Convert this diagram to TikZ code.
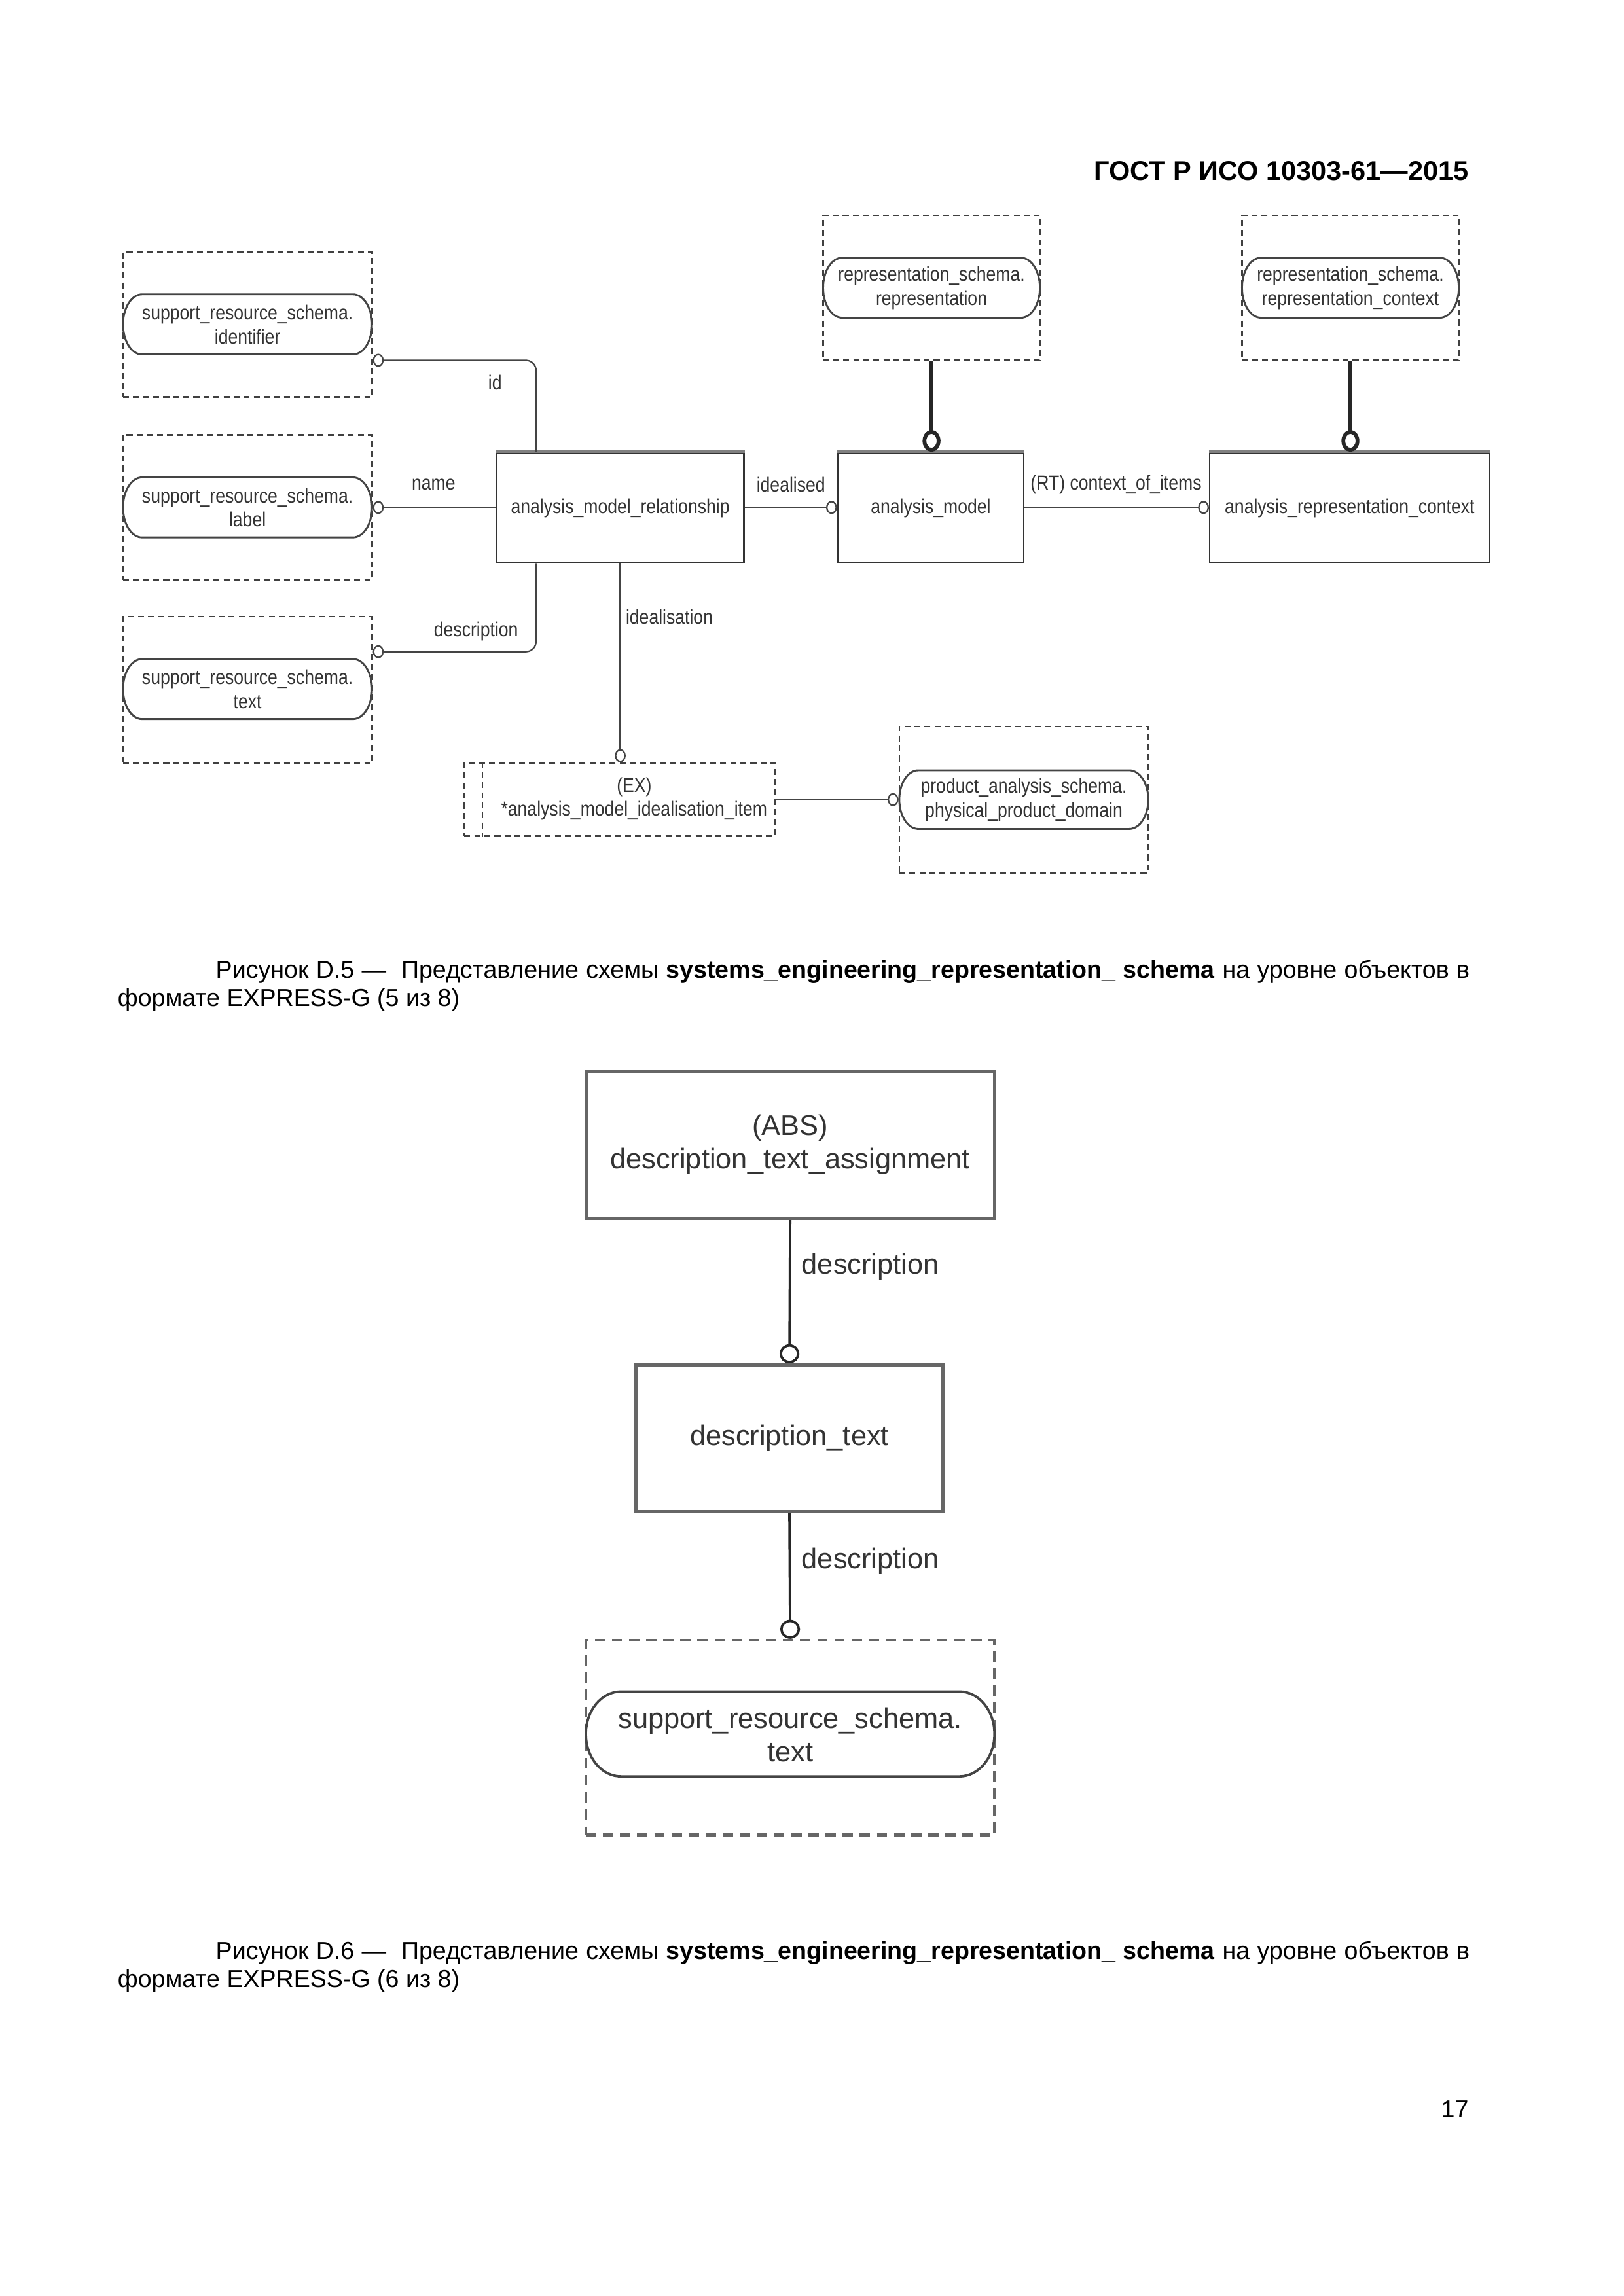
\documentclass[tikz,border=0pt]{standalone}
\usepackage{fontspec}
\setmainfont{Liberation Sans}
\newfontfamily\nar[FakeStretch=0.86]{Liberation Sans}
\usetikzlibrary{fit,arrows.meta}
\def\U{0.18944mm}
\definecolor{ink}{HTML}{333333}
\definecolor{lnc}{HTML}{444444}
\definecolor{bgr}{HTML}{666666}
\newcommand\stadium[6][stadline]{%
  \draw[#1] ({#2+#6},#3) -- ({#4-#6},#3)
    arc[start angle=-90,end angle=90,x radius=#6,y radius={(#5-#3)/2}]
    -- ({#2+#6},#5)
    arc[start angle=90,end angle=270,x radius=#6,y radius={(#5-#3)/2}] -- cycle;}
\tikzset{
  smallfont/.style={font=\nar\fontsize{7.45}{8.85}\selectfont, text=ink},
  conn/.style={draw=lnc, line width=0.55pt},
  ocirc/.style={-{Circle[open,length=4pt,width=4.8pt]}},
  vcirc/.style={-{Circle[open,length=4.8pt,width=4pt]}},
  thickc/.style={draw=black!85, line width=1.4pt, -{Circle[open,length=8pt,width=6.6pt]}},
  ent/.style={draw=ink, line width=0.6pt, inner sep=0pt},
  topedge/.style={draw=black!50, line width=1.1pt},
  dbox/.style={draw=black!75, line width=0.6pt, dash pattern=on 2.2pt off 1.5pt, inner sep=0pt},
  stadline/.style={draw=lnc, line width=0.7pt},
  stxt/.style={smallfont, align=center, inner sep=0pt},
  lbl/.style={smallfont, inner sep=0pt},
  bigfont/.style={font=\fontsize{10.45}{12.3}\selectfont, text=ink},
  bent/.style={draw=bgr, line width=1.2pt, inner sep=0pt},
  bdbox/.style={draw=bgr, line width=1.1pt, dash pattern=on 3.8pt off 2.5pt, inner sep=0pt},
  bstad/.style={draw=lnc, line width=0.9pt},
  bconn/.style={draw=black!85, line width=0.9pt, -{Circle[open,length=7pt,width=7.3pt]}},
  blbl/.style={bigfont, inner sep=0pt},
  btxt/.style={bigfont, align=center, inner sep=0pt},
  capfont/.style={font=\fontsize{9.05}{10.3}\selectfont, inner sep=0pt},
}
\begin{document}
\begin{tikzpicture}[x=0.18944mm,y=-0.18944mm]
\useasboundingbox (0,0) rectangle (1108.5,1567.8);
\fill[white] (0,0) rectangle (1108.5,1567.8);

% header
\node[font=\fontsize{10}{12}\selectfont\bfseries, inner sep=0pt, anchor=base east] (hdr) at (1003,123) {ГОСТ Р ИСО 10303-61—2015};

% ---------- Figure D.5 ----------
% dashed containers
\node[dbox, fit={(84,172)(254,271)}] (sA) {};
\node[dbox, fit={(84,297)(254,396)}] (sB) {};
\node[dbox, fit={(84,421)(254,521)}] (sC) {};
\node[dbox, fit={(562,147)(710,246)}] (sD) {};
\node[dbox, fit={(848,147)(996,246)}] (sE) {};
\node[dbox, fit={(614,496)(784,596)}] (sF) {};

\stadium{84}{201}{254}{242}{13}
\stadium{84}{326}{254}{367}{13}
\stadium{84}{450}{254}{491}{13}
\stadium{562}{176}{710}{217}{13}
\stadium{848}{176}{996}{217}{13}
\stadium{614}{526}{784}{566}{13}

\node[stxt] (tA) at (169,221.5) {support\_resource\_schema.\\identifier};
\node[stxt] (tB) at (169,346.5) {support\_resource\_schema.\\label};
\node[stxt] (tC) at (169,470.5) {support\_resource\_schema.\\text};
\node[stxt] (tD) at (636,196.5) {representation\_schema.\\representation};
\node[stxt] (tE) at (922,196.5) {representation\_schema.\\representation\_context};
\node[stxt] (tF) at (699,546) {product\_analysis\_schema.\\physical\_product\_domain};

% entities
\node[ent, fit={(339,309)(508,384)}] (amr) {};
\node[ent, fit={(572,309)(699,384)}] (am) {};
\node[ent, fit={(826,309)(1017,384)}] (arctx) {};
\draw[topedge] (amr.north west) -- (amr.north east);
\draw[topedge] (am.north west) -- (am.north east);
\draw[topedge] (arctx.north west) -- (arctx.north east);
\node[stxt] (tamr) at (423.5,347) {analysis\_model\_relationship};
\node[stxt] (tam) at (635.5,347) {analysis\_model};
\node[stxt] (tarc) at (921.5,347) {analysis\_representation\_context};

% extensible select
\node[dbox, fit={(317,521)(529,571)}] (ex) {};
\draw[dbox] ([xshift={13*\U}]ex.north west) -- ([xshift={13*\U}]ex.south west);
\node[stxt] (tex) at (433,545.5) {(EX)\\*analysis\_model\_idealisation\_item};

% connectors
\draw[conn, ocirc, rounded corners=3.8pt] (amr.north -| 366,0) |- (sA.east |- 0,246);
\node[lbl] (lid) at (338,261) {id};
\draw[conn, ocirc] (amr.west) -- (sB.east);
\node[lbl] (lname) at (296,331) {name};
\draw[conn, ocirc, rounded corners=3.8pt] (amr.south -| 366,0) |- (sC.east |- 0,445);
\node[lbl] (ldesc) at (325,431) {description};
\draw[conn, ocirc] (amr.east) -- (am.west);
\node[lbl] (lideal) at (540,331) {idealised};
\draw[conn, ocirc] (am.east) -- (arctx.west);
\node[lbl] (lctx) at (762,331) {(RT) context\_of\_items};
\draw[thickc] (sD.south) -- (sD.south |- am.north);
\draw[thickc] (sE.south) -- (sE.south |- arctx.north);
\draw[conn, vcirc] (amr.south) -- (amr.south |- ex.north);
\node[lbl] (lidealis) at (457,421) {idealisation};
\draw[conn, ocirc] (ex.east) -- (sF.west);

% caption D.5
\node[capfont, anchor=base west] (capA1) at (147,668) {\hbox to 162.16mm{Рисунок D.5 — \ Представление схемы \textbf{systems\_engineering\_representation\_ schema} на уровне объектов в}};
\node[capfont, anchor=base west] (capA2) at (80,687) {формате EXPRESS-G (5 из 8)};

% ---------- Figure D.6 ----------
\node[bent, fit={(400,732)(679,832)}] (abs) {};
\node[btxt] (tabs) at (539.5,781.5) {(ABS)\\description\_text\_assignment};
\node[bent, fit={(434,932)(644,1032)}] (dt) {};
\node[btxt] (tdt) at (539,982) {description\_text};
\node[bdbox, fit={(400,1120)(679,1253)}] (sG) {};
\stadium[bstad]{400}{1155}{679}{1213}{24}
\node[btxt] (tG) at (539.5,1184.5) {support\_resource\_schema.\\text};

\draw[bconn] (abs.south) -- (dt.north);
\node[blbl, anchor=west] (ld1) at (547,865) {description};
\draw[bconn] (dt.south) -- (sG.north);
\node[blbl, anchor=west] (ld2) at (547,1066) {description};

% caption D.6
\node[capfont, anchor=base west] (capB1) at (147,1338) {\hbox to 162.16mm{Рисунок D.6 — \ Представление схемы \textbf{systems\_engineering\_representation\_ schema} на уровне объектов в}};
\node[capfont, anchor=base west] (capB2) at (80,1357) {формате EXPRESS-G (6 из 8)};

% page number
\node[capfont, anchor=base east] (pg) at (1003,1446) {17};
\end{tikzpicture}
\end{document}
